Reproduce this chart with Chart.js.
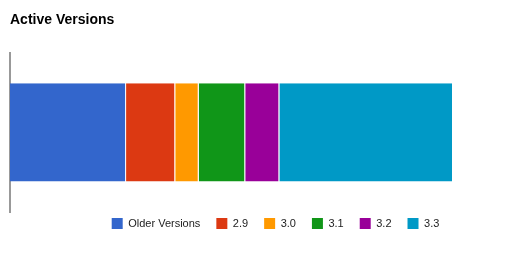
<!DOCTYPE html>
<html lang="en">
<head>
  <meta charset="UTF-8">
  <title>Active Versions</title>
  <script src="https://cdn.jsdelivr.net/npm/chart.js"></script>
  <style>
    body {
      margin: 0;
      background: #fff;
    }
    #wrap {
      width: 513px;
      height: 254px;
    }
  </style>
</head>
<body>

<div id="wrap">
  <canvas id="versionsChart" aria-label="Stacked bar of active versions" role="img"></canvas>
</div>

<script>
  const versions = ['Older Versions', '2.9', '3.0', '3.1', '3.2', '3.3'];
  const shares = [26.2, 11.1, 5.3, 10.5, 7.7, 39.2];
  const colors = ['#3366cc', '#dc3912', '#ff9900', '#109618', '#990099', '#0099c6'];

  // google-style legend sits a bit right of centre and closer to the axis
  const legendNudge = {
    id: 'legendNudge',
    afterLayout(chart) {
      const lg = chart.legend;
      lg.left += 44;
      lg.right += 44;
      lg.top -= 10;
      lg.bottom -= 10;
    }
  };

  const ctx = document.getElementById('versionsChart').getContext('2d');

  const chart = new Chart(ctx, {
    type: 'bar',
    data: {
      labels: [''],
      datasets: versions.map((v, i) => ({
        label: v,
        data: [shares[i]],
        backgroundColor: colors[i],
        borderColor: '#fff',
        borderWidth: { left: 0, right: 1, top: 0, bottom: 0 },
        borderSkipped: false,
        barPercentage: 0.616,
        categoryPercentage: 1
      }))
    },
    options: {
      indexAxis: 'y',
      responsive: true,
      maintainAspectRatio: false,
      animation: false,
      layout: { padding: { left: 10, right: 60, top: 0, bottom: 5 } },
      scales: {
        x: { stacked: true, min: 0, max: 100, display: false },
        y: {
          stacked: true,
          grid: { display: false, drawTicks: false },
          ticks: { display: false },
          border: { display: true, color: '#999', width: 2 }
        }
      },
      plugins: {
        title: {
          display: true,
          text: 'Active Versions',
          align: 'start',
          color: '#000',
          font: { family: 'Arial, "Liberation Sans", sans-serif', size: 14, weight: 'bold' },
          padding: { top: 12, bottom: 24 }
        },
        legend: {
          position: 'bottom',
          labels: {
            boxWidth: 11,
            boxHeight: 11,
            padding: 16,
            color: '#222',
            font: { family: 'Arial, "Liberation Sans", sans-serif', size: 11 },
            generateLabels: (c) => Chart.defaults.plugins.legend.labels.generateLabels(c)
              .map(item => ({ ...item, lineWidth: 0 }))
          }
        },
        tooltip: { enabled: false }
      }
    },
    plugins: [legendNudge]
  });
</script>

</body>
</html>
